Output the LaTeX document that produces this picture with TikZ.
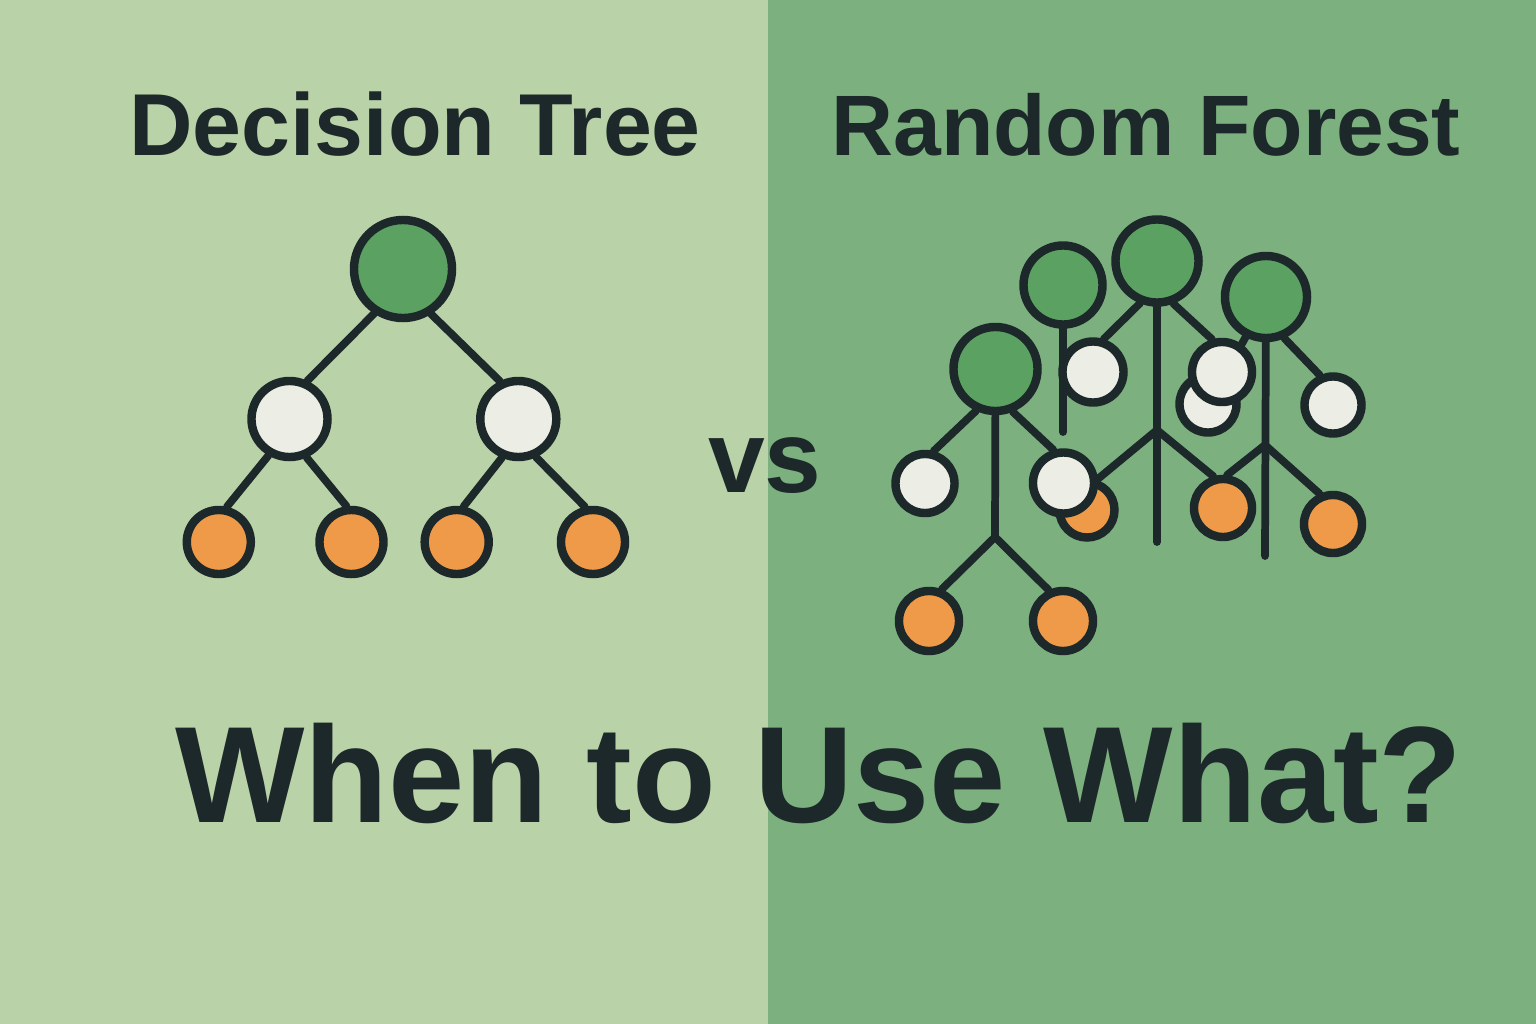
\documentclass[tikz,border=0pt]{standalone}
\usepackage{fontspec}
\setmainfont{Liberation Sans}
\definecolor{ink}{RGB}{28,40,41}
\definecolor{leftbg}{RGB}{186,210,168}
\definecolor{rightbg}{RGB}{124,176,127}
\definecolor{rootgreen}{RGB}{91,162,98}
\definecolor{splitwhite}{RGB}{236,237,229}
\definecolor{leaforange}{RGB}{239,154,72}
\pgfdeclarelayer{back}
\pgfdeclarelayer{edges}
\pgfsetlayers{back,edges,main}
\tikzset{
  knot/.style={circle,draw=ink,line width=2.4pt,inner sep=0pt},
  rootnode/.style={knot,fill=rootgreen},
  splitnode/.style={knot,fill=splitwhite},
  leafnode/.style={knot,fill=leaforange},
  branch/.style={draw=ink,line width=2.2pt,line cap=round},
  heading/.style={text=ink,anchor=base,inner sep=0pt,font=\bfseries\fontsize{25}{30}\selectfont},
}
\begin{document}
\begin{tikzpicture}[x=0.01cm,y=-0.01cm]
\useasboundingbox (0,0) rectangle (1536,1024);
\begin{pgfonlayer}{back}
\fill[leftbg] (0,0) rectangle (768,1024);
\fill[rightbg] (768,0) rectangle (1536,1024);
\end{pgfonlayer}

% titles
\node[heading] (dthead) at (415,155) {Decision Tree};
\node[heading,font=\bfseries\fontsize{24.4}{30}\selectfont] (rfhead) at (1146,155) {Random Forest};
\node[heading,font=\bfseries\fontsize{29}{34}\selectfont] (vs) at (765,492) {vs};
\node[heading,font=\bfseries\fontsize{39}{46}\selectfont] (question) at (819,822) {When to Use What?};

% decision tree
\node[rootnode,minimum size=0.98cm] (dt) at (403,269) {};
\node[splitnode,minimum size=0.76cm] (dt-l) at (289.5,419) {};
\node[splitnode,minimum size=0.76cm] (dt-r) at (518.3,419) {};
\node[leafnode,minimum size=0.64cm] (dt-ll) at (218.8,542) {};
\node[leafnode,minimum size=0.64cm] (dt-lr) at (351.5,542) {};
\node[leafnode,minimum size=0.64cm] (dt-rl) at (456.7,542) {};
\node[leafnode,minimum size=0.64cm] (dt-rr) at (593,542) {};
\begin{pgfonlayer}{edges}
\draw[branch] (dt.237) -- (dt-l.65);
\draw[branch] (dt.302) -- (dt-r.116);
\draw[branch] (dt-l.240) -- (dt-ll.77);
\draw[branch] (dt-l.294) -- (dt-lr.98);
\draw[branch] (dt-r.247) -- (dt-rl.79);
\draw[branch] (dt-r.295) -- (dt-rr.103);
\end{pgfonlayer}

% random forest
\coordinate (a-fork) at (995,537);
\coordinate (b-end) at (1063,432);
\coordinate (c-fork) at (1157,430);
\coordinate (c-end) at (1157,542);
\coordinate (d-fork) at (1265,445);
\coordinate (d-end) at (1265,556);
\node[rootnode,minimum size=0.79cm] (rb) at (1063,285) {};
\node[rootnode,minimum size=0.83cm] (rc) at (1157,261) {};
\node[rootnode,minimum size=0.82cm] (rd) at (1266,297) {};
\node[splitnode,minimum size=0.61cm] (wc-l) at (1093,372) {};
\node[splitnode,minimum size=0.57cm] (wd-l) at (1208,404) {};
\node[splitnode,minimum size=0.60cm] (wc-r) at (1222,372) {};
\node[splitnode,minimum size=0.57cm] (wd-r) at (1333,405) {};
\node[leafnode,minimum size=0.55cm] (oc-l) at (1087,510) {};
\node[leafnode,minimum size=0.58cm] (ocd) at (1223,508) {};
\node[leafnode,minimum size=0.58cm] (od-r) at (1333,524) {};
\node[rootnode,minimum size=0.84cm] (ra) at (995.5,369) {};
\node[splitnode,minimum size=0.59cm] (wa-l) at (925,483.5) {};
\node[splitnode,minimum size=0.61cm] (wa-r) at (1063.5,483) {};
\node[leafnode,minimum size=0.60cm] (oa-l) at (929,621) {};
\node[leafnode,minimum size=0.60cm] (oa-r) at (1063,621) {};
\begin{pgfonlayer}{edges}
\draw[branch] (rb) -- (b-end);
\draw[branch] (rc) -- (c-end);
\draw[branch] (rc.248) -- (wc-l.72);
\draw[branch] (rc.291) -- (wc-r.107);
\draw[branch] (c-fork) -- (oc-l.72);
\draw[branch] (c-fork) -- (ocd.107);
\draw[branch] (rd) -- (d-end);
\draw[branch] (rd.243) -- (wd-l.60);
\draw[branch] (rd.294) -- (wd-r.114);
\draw[branch] (d-fork) -- (ocd.83);
\draw[branch] (d-fork) -- (od-r.114);
\draw[branch] (ra) -- (a-fork);
\draw[branch] (ra.245) -- (wa-l.75);
\draw[branch] (ra.292) -- (wa-r.107);
\draw[branch] (a-fork) -- (oa-l.68);
\draw[branch] (a-fork) -- (oa-r.115);
\end{pgfonlayer}
\end{tikzpicture}
\end{document}
